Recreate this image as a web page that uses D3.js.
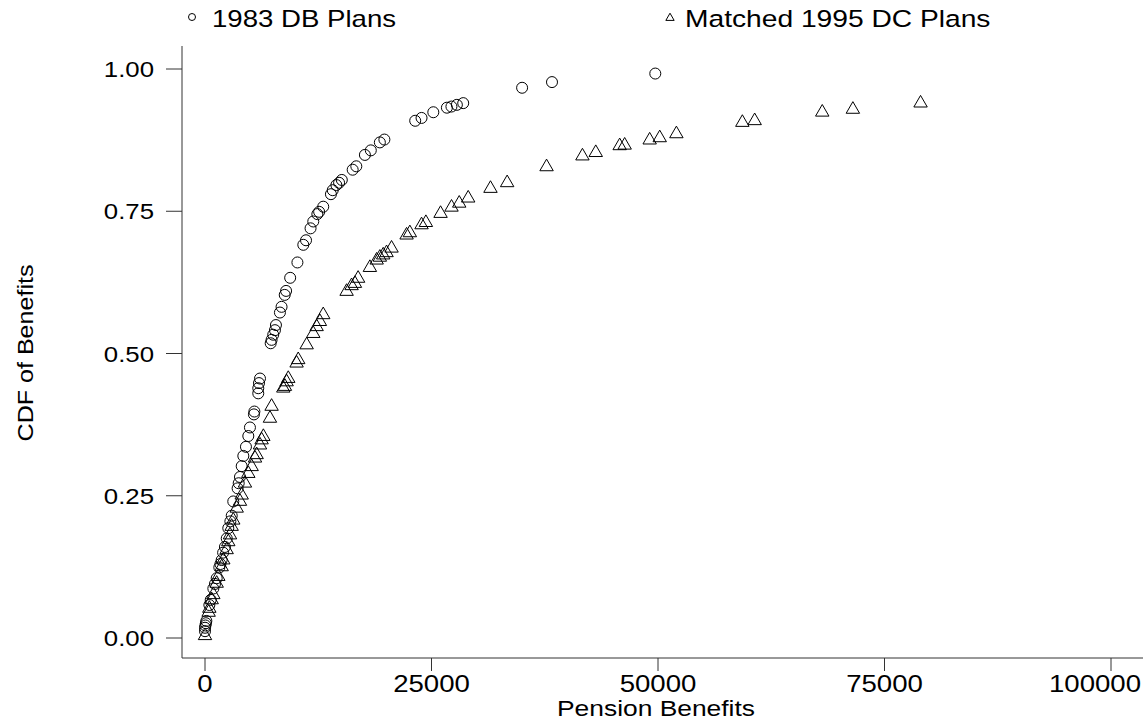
<!DOCTYPE html>
<html>
<head>
<meta charset="utf-8">
<script src="https://cdn.jsdelivr.net/npm/d3@7"></script>
<style>
    body { margin: 0; background: #fff; }
    text { font-family: "Liberation Sans", Arial, sans-serif; fill: #000; }
</style>
</head>
<body>
<div id="chart-area"></div>
<script>
// 1983 DB plans (circles)
var dbBenefit = [0, 0, 50, 100, 150, 480, 630, 920, 1100, 1290, 1580, 1700, 1840, 2000, 2200, 2400, 2570, 2800,
    2950, 3120, 3600, 3720, 3860, 4050, 4230, 4520, 4780, 4960, 5400, 5450, 5880, 5880, 5960, 6070,
    7250, 7350, 7530, 7720, 7830, 8270, 8450, 8800, 8950, 9400, 10200, 10850, 11150, 11650, 11950,
    12400, 12600, 13050, 13900, 14100, 14500, 14800, 15100, 16300, 16700, 17650, 18300, 19300, 19800,
    23200, 23900, 25200, 26700, 27200, 27800, 28500, 35000, 38300, 49700];
var dbCdf = [0.012, 0.018, 0.022, 0.026, 0.030, 0.058, 0.067, 0.087, 0.095, 0.105, 0.124, 0.130, 0.137, 0.150, 0.160, 0.175, 0.193, 0.205,
    0.215, 0.240, 0.263, 0.272, 0.283, 0.302, 0.320, 0.336, 0.355, 0.370, 0.393, 0.398, 0.430, 0.439, 0.448, 0.456,
    0.518, 0.524, 0.533, 0.541, 0.550, 0.572, 0.582, 0.603, 0.610, 0.633, 0.660, 0.691, 0.699, 0.720, 0.732,
    0.745, 0.749, 0.758, 0.780, 0.787, 0.796, 0.800, 0.805, 0.823, 0.829, 0.849, 0.857, 0.871, 0.876,
    0.909, 0.914, 0.924, 0.932, 0.934, 0.937, 0.940, 0.967, 0.977, 0.992];

// Matched 1995 DC plans (triangles)
var dcBenefit = [0, 400, 480, 740, 920, 1290, 1470, 1840, 2020, 2390, 2570, 2760, 2940, 3120, 3500, 3860, 4050,
    4410, 4780, 5150, 5520, 5700, 6070, 6250, 6440, 7170, 7350, 8640, 8820, 9010, 9190, 10110, 10290,
    11220, 11950, 12320, 12680, 13050, 15630, 16180, 16550, 16900, 18200, 18950, 19300, 19670, 20040,
    20590, 22250, 22610, 23900, 24380, 26000, 27210, 28060, 29050, 31510, 33350, 37700, 41660, 43130,
    45770, 46320, 49080, 50190, 52030, 59310, 60670, 68130, 71510, 78980];
var dcCdf = [0.004, 0.045, 0.052, 0.067, 0.076, 0.096, 0.108, 0.125, 0.137, 0.155, 0.169, 0.181, 0.196, 0.207, 0.228, 0.240, 0.251,
    0.272, 0.289, 0.301, 0.316, 0.322, 0.339, 0.348, 0.354, 0.386, 0.407, 0.439, 0.442, 0.450, 0.456, 0.483, 0.489,
    0.515, 0.535, 0.547, 0.556, 0.568, 0.609, 0.619, 0.623, 0.632, 0.651, 0.664, 0.669, 0.673, 0.677,
    0.685, 0.708, 0.712, 0.726, 0.730, 0.746, 0.757, 0.764, 0.773, 0.790, 0.800, 0.828, 0.847, 0.853,
    0.865, 0.866, 0.875, 0.879, 0.886, 0.906, 0.909, 0.924, 0.929, 0.940];

var xTicks = [0, 25000, 50000, 75000, 100000];
var yTicks = [0, 0.25, 0.5, 0.75, 1];
var legendLabels = ["1983 DB Plans", "Matched 1995 DC Plans"];

var width = 1143, height = 727;

var svg = d3.select("#chart-area").append("svg")
    .attr("width", width)
    .attr("height", height);

var x = d3.scaleLinear().domain([0, 100000]).range([205, 1111]);
var y = d3.scaleLinear().domain([0, 1]).range([638, 69]);

// wide text helper (the original type is drawn stretched sideways)
function label(px, py, str, anchor, size, stretch, rot) {
    var g = svg.append("g")
        .attr("transform", "translate(" + px + "," + py + ")" + (rot ? " rotate(" + rot + ")" : "") + " scale(" + stretch + ",1)");
    g.append("text")
        .attr("text-anchor", anchor)
        .style("font-size", size + "px")
        .text(str);
}

// axes lines
svg.append("line").attr("x1", 182).attr("x2", 182).attr("y1", 46).attr("y2", 658)
    .attr("stroke", "#333").attr("stroke-width", 1);
svg.append("line").attr("x1", 182).attr("x2", width).attr("y1", 658).attr("y2", 658)
    .attr("stroke", "#333").attr("stroke-width", 1);

// ticks
yTicks.forEach(function (t) {
    svg.append("line").attr("x1", 166).attr("x2", 182).attr("y1", y(t)).attr("y2", y(t))
        .attr("stroke", "#333");
    label(154, y(t) + 8, d3.format(".2f")(t), "end", 21.5, 1.2);
});
xTicks.forEach(function (t, i) {
    svg.append("line").attr("x1", x(t)).attr("x2", x(t)).attr("y1", 658).attr("y2", 671)
        .attr("stroke", "#333");
    // last label is pulled in so it stays on the page
    if (i === xTicks.length - 1) {
        label(1141, 692, t, "end", 23, 1.2);
    } else {
        label(x(t), 692, t, "middle", 23, 1.2);
    }
});

label(656, 716, "Pension Benefits", "middle", 22, 1.2);
label(33, 353, "CDF of Benefits", "middle", 22, 1.14, -90);

// markers
var tri = d3.symbol().type(d3.symbolTriangle).size(78);

svg.append("g").selectAll("circle")
    .data(d3.range(dbBenefit.length))
    .enter()
    .append("circle")
    .attr("cx", function (i) { return x(dbBenefit[i]); })
    .attr("cy", function (i) { return y(dbCdf[i]); })
    .attr("r", 5.5)
    .attr("fill", "none")
    .attr("stroke", "#000")
    .attr("stroke-width", 1);

svg.append("g").selectAll("path")
    .data(d3.range(dcBenefit.length))
    .enter()
    .append("path")
    .attr("d", tri)
    .attr("transform", function (i) { return "translate(" + x(dcBenefit[i]) + "," + y(dcCdf[i]) + ")"; })
    .attr("fill", "none")
    .attr("stroke", "#000")
    .attr("stroke-width", 1);

// legend
svg.append("circle").attr("cx", 192).attr("cy", 17).attr("r", 3.5)
    .attr("fill", "none").attr("stroke", "#000");
label(212, 27, legendLabels[0], "start", 23, 1.2);

svg.append("path").attr("d", d3.symbol().type(d3.symbolTriangle).size(30))
    .attr("transform", "translate(670,18)")
    .attr("fill", "none").attr("stroke", "#000");
label(685, 27, legendLabels[1], "start", 23.5, 1.2);
</script>
</body>
</html>
